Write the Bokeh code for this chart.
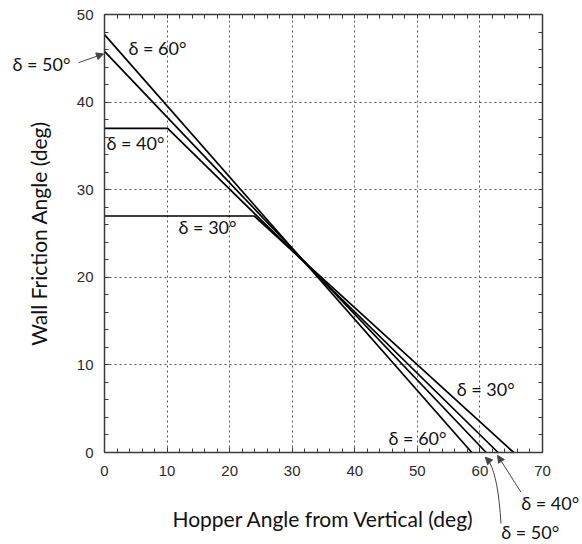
from bokeh.plotting import figure
from bokeh.models import (LinearAxis, Range1d, Label, Arrow, NormalHead, Grid,
                          SingleIntervalTicker, FixedTicker)
from bokeh.embed import file_html
from bokeh.resources import INLINE

# ---- data ----
delta_30_x = [0, 23.9, 65.4]
delta_30_y = [27, 27, 0]
delta_40_x = [0, 10.1, 62.9]
delta_40_y = [37, 37, 0]
delta_50_x = [0, 61.0]
delta_50_y = [45.8, 0]
delta_60_x = [0, 58.7]
delta_60_y = [47.7, 0]

label_texts = ["δ = 60°", "δ = 50°", "δ = 40°", "δ = 30°", "δ = 30°", "δ = 60°", "δ = 40°", "δ = 50°"]
label_x = [3.84, -14.7, 0.32, 11.84, 56.3, 45.4, 66.6, 63.4]
label_y = [46.2, 44.4, 35.3, 25.7, 7.3, 1.6, -5.8, -9.1]

X_MIN, X_MAX = 0, 70
Y_MIN, Y_MAX = 0, 50

# ---- layout geometry (pixels) ----
W, H = 582, 544
FL, FR, FT, FB = 104, 542, 14, 452   # plot box edges in page pixels
sx = (FR - FL) / (X_MAX - X_MIN)
sy = (FB - FT) / (Y_MAX - Y_MIN)

TXT_FONT = "Lato"
TICK_FONT = "Liberation Sans"

p = figure(width=W, height=H, output_backend="svg", toolbar_location=None, title=None,
           x_range=Range1d(X_MIN - FL / sx, X_MAX + (W - FR) / sx),
           y_range=Range1d(Y_MIN - (H - FB) / sy, Y_MAX + FT / sy),
           min_border=0, x_axis_type=None, y_axis_type=None,
           background_fill_color="white", border_fill_color="white")
p.outline_line_color = None
p.grid.visible = False

xt = SingleIntervalTicker(interval=10, num_minor_ticks=5)
yt = SingleIntervalTicker(interval=10, num_minor_ticks=5)
xt_top = FixedTicker(ticks=[], minor_ticks=list(range(X_MIN, X_MAX + 1, 2)))
yt_right = FixedTicker(ticks=[], minor_ticks=list(range(Y_MIN, Y_MAX + 1, 2)))

def style_axis(ax):
    ax.axis_line_color = "#3a3a3a"
    ax.axis_line_width = 1.5
    ax.major_tick_in = 5
    ax.major_tick_out = 0
    ax.minor_tick_in = 4
    ax.minor_tick_out = 0
    ax.major_tick_line_color = "#3a3a3a"
    ax.minor_tick_line_color = "#3a3a3a"
    ax.major_label_text_font = TICK_FONT
    ax.major_label_text_font_size = "15px"
    ax.major_label_text_color = "#2a2a2a"
    ax.axis_label_text_font = TXT_FONT
    ax.axis_label_text_font_size = "21px"
    ax.axis_label_text_font_style = "normal"
    ax.axis_label_text_color = "#111111"

bottom_ax = LinearAxis(ticker=xt, fixed_location=Y_MIN, bounds=(X_MIN, X_MAX),
                       axis_label="Hopper Angle from Vertical (deg)")
left_ax = LinearAxis(ticker=yt, fixed_location=X_MIN, bounds=(Y_MIN, Y_MAX),
                     axis_label="Wall Friction Angle (deg)")
top_ax = LinearAxis(ticker=xt_top, fixed_location=Y_MAX, bounds=(X_MIN, X_MAX))
right_ax = LinearAxis(ticker=yt_right, fixed_location=X_MAX, bounds=(Y_MIN, Y_MAX))
for ax in (bottom_ax, left_ax, top_ax, right_ax):
    style_axis(ax)
bottom_ax.major_label_standoff = 13
left_ax.major_label_standoff = 11
bottom_ax.axis_label_standoff = 27
left_ax.axis_label_standoff = 23
p.add_layout(bottom_ax, "below")
p.add_layout(left_ax, "left")
p.add_layout(top_ax, "above")
p.add_layout(right_ax, "right")

xg = Grid(dimension=0, ticker=xt, bounds=(X_MIN, X_MAX), cross_bounds=(Y_MIN, Y_MAX))
yg = Grid(dimension=1, ticker=yt, bounds=(Y_MIN, Y_MAX), cross_bounds=(X_MIN, X_MAX))
for g in (xg, yg):
    g.grid_line_color = "#555555"
    g.grid_line_dash = "2 3"
    g.grid_line_width = 1
    p.add_layout(g)

for xs, ys in [(delta_30_x, delta_30_y), (delta_40_x, delta_40_y),
               (delta_50_x, delta_50_y), (delta_60_x, delta_60_y)]:
    p.line(xs, ys, line_color="black", line_width=1.7)

for t, lx, ly in zip(label_texts, label_x, label_y):
    p.add_layout(Label(x=lx, y=ly, text=t, text_font=TXT_FONT, text_font_size="18px",
                       text_baseline="middle", text_align="left", text_color="#111111"))

# arrows
arr_col = "#444444"
p.add_layout(Arrow(x_start=-4.16, y_start=44.5, x_end=-0.16, y_end=45.5,
                   line_color=arr_col, line_width=1,
                   end=NormalHead(size=7, fill_color=arr_col, line_color=arr_col)))
p.add_layout(Arrow(x_start=66.56, y_start=-4.53, x_end=62.83, y_end=-0.34,
                   line_color=arr_col, line_width=1,
                   end=NormalHead(size=7, fill_color=arr_col, line_color=arr_col)))
# curved arrow (quadratic curve drawn as short segments)
x0, y0 = 63.36, -8.1
cx, cy = 62.83, -1.68
x1, y1 = 60.85, -0.54
n = 10
pts = []
for i in range(n + 1):
    t = i / n
    bx = (1 - t) ** 2 * x0 + 2 * (1 - t) * t * cx + t ** 2 * x1
    by = (1 - t) ** 2 * y0 + 2 * (1 - t) * t * cy + t ** 2 * y1
    pts.append((bx, by))
for i in range(n):
    (xa, ya), (xb, yb) = pts[i], pts[i + 1]
    head = NormalHead(size=7, fill_color=arr_col, line_color=arr_col) if i == n - 1 else None
    p.add_layout(Arrow(x_start=xa, y_start=ya, x_end=xb, y_end=yb,
                       line_color=arr_col, line_width=1, end=head))

open("out.html", "w").write(file_html(p, INLINE))
